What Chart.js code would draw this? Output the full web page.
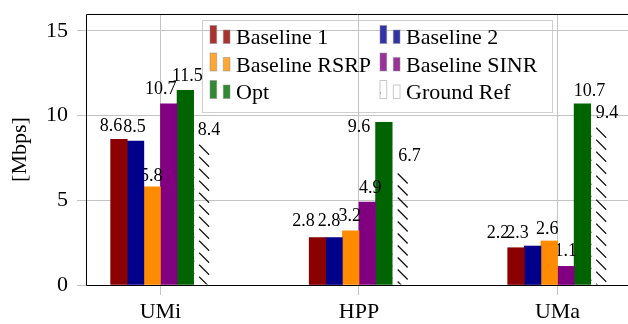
<!DOCTYPE html>
<html>
<head>
<meta charset="utf-8">
<script src="https://cdn.jsdelivr.net/npm/chart.js@4.4.1/dist/chart.umd.min.js"></script>
<style>
  html, body { margin: 0; padding: 0; background: #fff; overflow: hidden; }
  #wrap { width: 628px; height: 324px; position: relative; }
</style>
</head>
<body>
<div id="wrap"><canvas id="barChart" width="628" height="324"></canvas></div>
<script>
// chart values
const categories = ['UMi', 'HPP', 'UMa'];
const seriesNames = ['Baseline 1', 'Baseline 2', 'Baseline RSRP', 'Baseline SINR', 'Opt', 'Ground Ref'];
const baseline1 = [8.6, 2.8, 2.2];
const baseline2 = [8.5, 2.8, 2.3];
const baselineRSRP = [5.8, 3.2, 2.6];
const baselineSINR = [10.7, 4.9, 1.1];
const opt = [11.5, 9.6, 10.7];
const groundRef = [8.4, 6.7, 9.4];
const yTicks = [0, 5, 10, 15];

// styling
const FONT = 'Liberation Serif, "Times New Roman", serif';
const GRID = '#c4c4c4';
const barColors = ['#8b0000', '#00008b', '#ff8c00', '#800080', '#006400', 'rgba(0,0,0,0)'];
const legendColors = ['#a83333', '#3333a8', '#ffa733', '#993399', '#338833', '#ffffff'];

// small pixel nudges of the value labels, [dx, dy] per series and category
const labelNudge = [
    [[-8, 1], [-14, -2], [-18, 0]],
    [[-1, 0], [-5, -2], [-15, 1]],
    [[-1, 4], [-1, -1], [-2, 2]],
    [[-8, -1], [3, 0], [0, -1]],
    [[2, 0], [-25, 19], [7, 1]],
    [[7, 2], [9, -1], [8, 1]]
];

const allSeries = [baseline1, baseline2, baselineRSRP, baselineSINR, opt, groundRef];

// hatch for Ground Ref bars, drawn inside each bar element
const hatchBars = {
    id: 'hatchBars',
    afterDatasetDraw(chart, args) {
        if (args.index !== 5) return;
        const { ctx } = chart;
        ctx.save();
        args.meta.data.forEach((bar) => {
            const left = bar.x - bar.width / 2;
            const top = bar.y;
            const h = bar.base - bar.y;
            ctx.save();
            ctx.beginPath();
            ctx.rect(left, top, bar.width, h);
            ctx.clip();
            ctx.strokeStyle = '#111';
            ctx.lineWidth = 1.2;
            for (let y = top + 2; y < bar.base; y += 12) {
                ctx.beginPath();
                ctx.moveTo(left + 5.5, y);
                ctx.lineTo(left + 15.5, y + 10);
                ctx.stroke();
                ctx.fillStyle = '#666';
                ctx.fillRect(left, y + 8, 1, 1);
            }
            ctx.restore();
        });
        ctx.restore();
    }
};

// value labels drawn right after each series, so later bars cover them
const valueLabels = {
    id: 'valueLabels',
    afterDatasetDraw(chart, args) {
        const { ctx } = chart;
        const i = args.index;
        ctx.save();
        ctx.font = '18px ' + FONT;
        ctx.fillStyle = '#000';
        ctx.textAlign = 'center';
        ctx.textBaseline = 'middle';
        args.meta.data.forEach((bar, j) => {
            const n = labelNudge[i][j];
            ctx.fillText(allSeries[i][j].toFixed(1), bar.x + n[0], bar.y - 14 + n[1]);
        });
        ctx.restore();
    }
};

// axis frame: left, bottom and top lines
const frame = {
    id: 'frame',
    afterDatasetsDraw(chart) {
        const { ctx, chartArea: a } = chart;
        const l = Math.round(a.left) + 0.5, t = Math.round(a.top) + 0.5, b = Math.round(a.bottom) + 0.5;
        ctx.save();
        ctx.strokeStyle = '#000';
        ctx.lineWidth = 1;
        ctx.beginPath();
        ctx.moveTo(a.right, t);
        ctx.lineTo(l, t);
        ctx.lineTo(l, b);
        ctx.lineTo(a.right, b);
        ctx.stroke();
        ctx.restore();
    }
};

// legend box inside the plot: fill under the grid, entries on top
const legendBox = () => {
    return { x: 116, y: 6, w: 350, h: 92 };
};
const boxLegend = {
    id: 'boxLegend',
    beforeDraw(chart) {
        const { ctx, chartArea: a } = chart;
        const b = legendBox();
        ctx.save();
        ctx.fillStyle = '#fff';
        ctx.strokeStyle = '#cfcfcf';
        ctx.lineWidth = 1;
        ctx.fillRect(a.left + b.x, a.top + b.y, b.w, b.h);
        ctx.strokeRect(a.left + b.x + 0.5, a.top + b.y + 0.5, b.w, b.h);
        ctx.restore();
    },
    afterDraw(chart) {
        const { ctx, chartArea: a } = chart;
        const b = legendBox();
        const x0 = a.left + b.x, y0 = a.top + b.y;
        ctx.save();
        ctx.font = '22px ' + FONT;
        ctx.textBaseline = 'alphabetic';
        ctx.textAlign = 'left';
        seriesNames.forEach((name, k) => {
            const col = k % 2, row = Math.floor(k / 2);
            const cx = x0 + 8 + col * 170;
            const by = y0 + 23.5 + row * 27.5;
            ctx.fillStyle = legendColors[k];
            ctx.strokeStyle = k === 5 ? '#c8c8c8' : 'rgba(140,140,140,0.5)';
            ctx.lineWidth = 1;
            ctx.fillRect(cx, by - 18, 6.7, 18);
            ctx.strokeRect(cx, by - 18, 6.7, 18);
            ctx.fillRect(cx + 13.3, by - 13.5, 6.7, 13.5);
            ctx.strokeRect(cx + 13.3, by - 13.5, 6.7, 13.5);
            if (k === 5) {
                ctx.fillStyle = '#777';
                ctx.fillRect(cx, by - 6, 1, 1);
            }
            ctx.fillStyle = '#000';
            ctx.fillText(name, cx + 26, by + 0.5);
        });
        ctx.restore();
    }
};

// drop the automatic label padding so the plot area keeps its place
const noEdgePadding = (s) => {
    s.paddingTop = 0;
    s.paddingBottom = 0;
    s.paddingLeft = 0;
    s.paddingRight = 0;
};

const ctx = document.getElementById('barChart').getContext('2d');

new Chart(ctx, {
    type: 'bar',
    data: {
        datasets: allSeries.map((vals, i) => ({
            label: seriesNames[i],
            data: vals.map((v, j) => ({ x: j, y: v })),
            backgroundColor: barColors[i],
            borderWidth: 0,
            barThickness: 16.6
        }))
    },
    options: {
        responsive: false,
        animation: false,
        devicePixelRatio: 1,
        layout: { padding: { top: 14, right: 0, left: 0, bottom: 0 } },
        scales: {
            x: {
                type: 'linear',
                min: -0.375,
                max: 2.355,
                offset: false,
                afterBuildTicks: (s) => { s.ticks = categories.map((c, i) => ({ value: i })); },
                afterFit: (s) => { s.height = 39; noEdgePadding(s); },
                ticks: {
                    callback: (v) => categories[v],
                    autoSkip: false,
                    maxRotation: 0,
                    padding: 4,
                    color: '#000',
                    font: { family: FONT, size: 22 }
                },
                grid: { color: GRID, offset: false, tickLength: 10 },
                border: { display: false }
            },
            y: {
                min: 0,
                max: 16,
                afterBuildTicks: (s) => { s.ticks = yTicks.map((v) => ({ value: v })); },
                afterFit: (s) => { s.width = 86; noEdgePadding(s); },
                ticks: {
                    padding: 9,
                    color: '#000',
                    font: { family: FONT, size: 22 }
                },
                grid: { color: GRID, tickLength: 9 },
                border: { display: false },
                title: {
                    display: true,
                    text: '[Mbps]',
                    color: '#000',
                    padding: { top: 7, bottom: 0 },
                    font: { family: FONT, size: 22 }
                }
            }
        },
        plugins: {
            legend: { display: false },
            tooltip: { enabled: false }
        }
    },
    plugins: [boxLegend, hatchBars, valueLabels, frame]
});
</script>
</body>
</html>
